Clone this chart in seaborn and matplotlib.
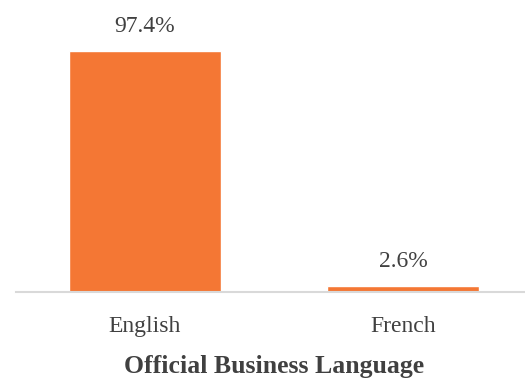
import matplotlib
matplotlib.use("Agg")
import matplotlib.pyplot as plt
import seaborn as sns
import pandas as pd

languages = ["English", "French"]
shares = [97.4, 2.6]
value_labels = ["97.4%", "2.6%"]

sns.set_theme(style="white")
plt.rcParams["font.family"] = ["Liberation Serif", "DejaVu Serif"]

df = pd.DataFrame({"language": languages, "share": shares})

fig = plt.figure(figsize=(5.25, 3.81), dpi=100)
ax = fig.add_axes([16 / 525, 89 / 381, 516 / 525, 272 / 381])

sns.barplot(data=df, x="language", y="share", color="#F47734",
            saturation=1, width=0.59, ax=ax)

ax.set_ylim(0, 110)
ax.set_xlim(-0.5, 1.5)
ax.set_yticks([])
ax.set_ylabel("")
for side in ["left", "right", "top"]:
    ax.spines[side].set_visible(False)
ax.spines["bottom"].set_color("#D9D9D9")
ax.spines["bottom"].set_linewidth(1.5)

ax.tick_params(axis="x", length=0, pad=17, labelsize=17, labelcolor="#404040")
ax.set_xlabel("Official Business Language", fontsize=18.5, fontweight="bold",
              color="#404040", labelpad=13)

for i, (v, lab) in enumerate(zip(shares, value_labels)):
    ax.annotate(lab, (i, v), xytext=(0, 10), textcoords="offset points",
                ha="center", va="bottom", fontsize=17, color="#404040")

fig.savefig("out.png", dpi=100)
